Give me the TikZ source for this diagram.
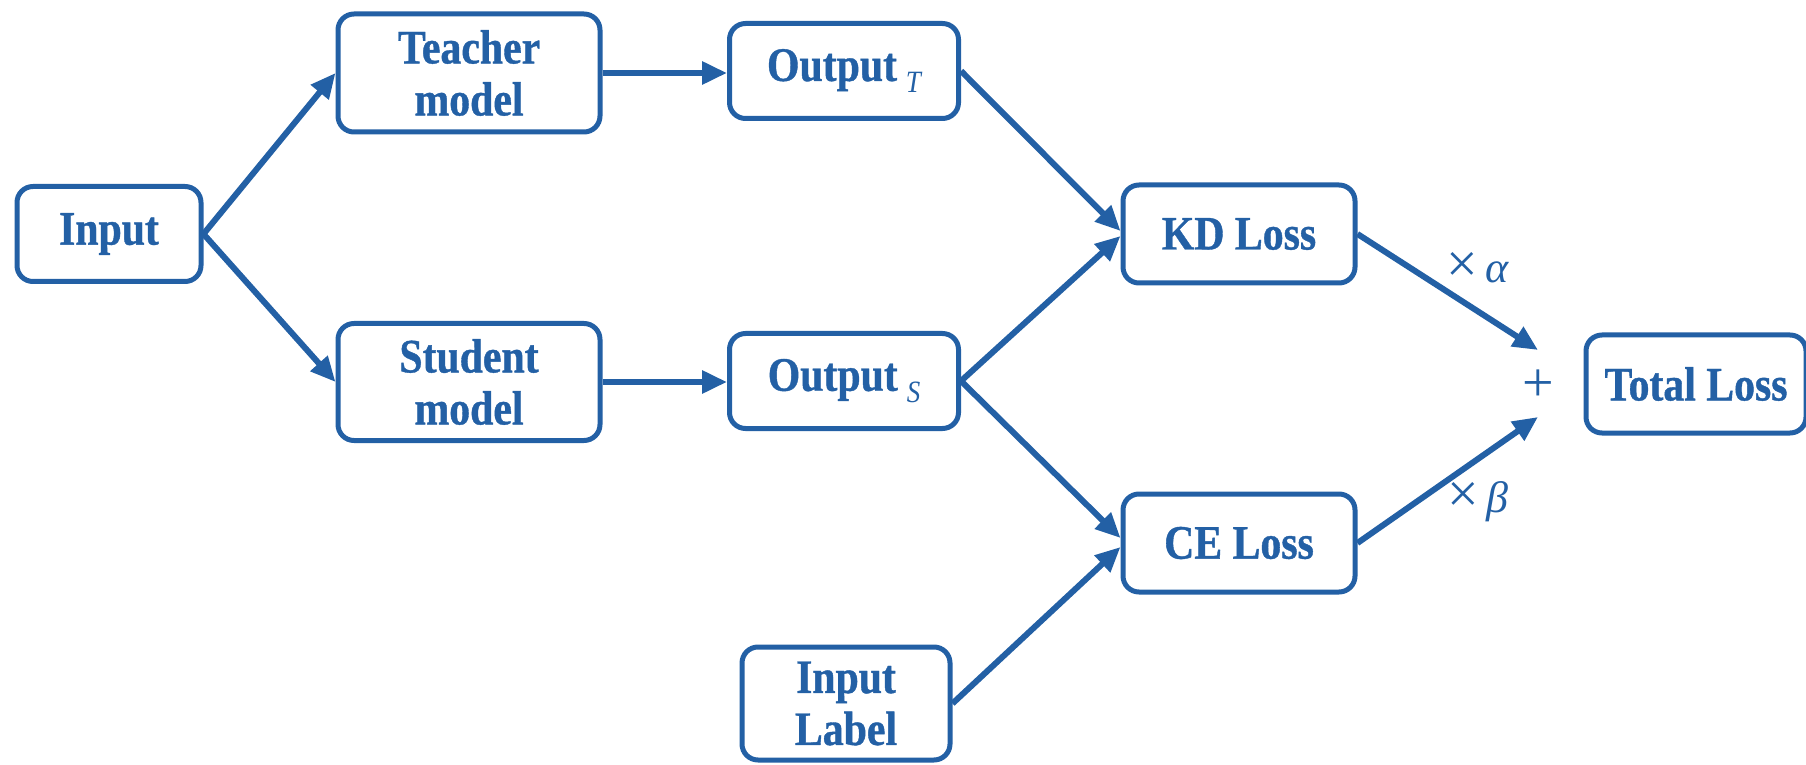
\documentclass[tikz,border=0pt]{standalone}
\usepackage{fontspec}
\newfontfamily\boxfont{Liberation Serif}[FakeStretch=0.87,BoldFeatures={FakeBold=0.8}]
\newfontfamily\symfnt{Liberation Serif}
\usetikzlibrary{arrows.meta}
\definecolor{kdblue}{RGB}{35,96,165}
\tikzset{
  box/.style={draw=kdblue, line width=5pt, rounded corners=16pt, text=kdblue,
    font=\boxfont\bfseries\fontsize{48}{52}\selectfont, align=center, inner sep=0pt},
  arr/.style={draw=kdblue, line width=6pt, -{Triangle[length=25pt,width=22pt]}},
  mlabel/.style={text=kdblue, font=\symfnt\fontsize{44}{44}\selectfont, inner sep=0pt}
}
\newcommand{\subsc}[1]{\hspace{9pt}\raisebox{-12pt}{\fontsize{31}{31}\selectfont\mdseries\itshape #1}}
\begin{document}
\begin{tikzpicture}[x=1pt,y=1pt]
\useasboundingbox (0,0) rectangle (1806,764);
\node[box, minimum width=184pt, minimum height=95pt] (in) at (109,530) {Input};
\node[box, minimum width=262pt, minimum height=118pt] (teacher) at (469,691) {Teacher\\model};
\node[box, minimum width=262pt, minimum height=117pt] (student) at (469,382) {Student\\model};
\node[box, minimum width=229pt, minimum height=95pt] (outT) at (844,693) {Output\subsc{T}};
\node[box, minimum width=229pt, minimum height=95pt] (outS) at (844,383) {Output\subsc{S}};
\node[box, minimum width=232pt, minimum height=98pt] (kd) at (1239,530) {KD Loss};
\node[box, minimum width=232pt, minimum height=98pt] (ce) at (1239,221) {CE Loss};
\node[box, minimum width=208pt, minimum height=113pt] (label) at (846,60.5) {Input\\Label};
\node[box, minimum width=220pt, minimum height=98pt] (total) at (1696,380) {Total Loss};
\node[mlabel, font=\symfnt\fontsize{56}{56}\selectfont] (plus) at (1538,378) {+};
\node[mlabel] (alpha) at (1478,496) {{\fontsize{56}{56}\selectfont ×}\,\textit{α}};
\node[mlabel] (beta) at (1478,262) {{\fontsize{56}{56}\selectfont ×}\,\textit{β}};
\coordinate (pa) at (1538,414);
\coordinate (pb) at (1538,347);
\draw[arr] (in.east) -- (teacher.west);
\draw[arr] (in.east) -- (student.west);
\draw[arr] (teacher.east) -- (teacher.east -| outT.west);
\draw[arr] (student.east) -- (student.east -| outS.west);
\draw[arr] (outT.east) -- ([yshift=3pt]kd.west);
\draw[arr] (outS.east) -- ([yshift=-2pt]kd.west);
\draw[arr] (outS.east) -- ([yshift=5pt]ce.west);
\draw[arr] (label.east) -- ([yshift=-4pt]ce.west);
\draw[arr] (kd.east) -- (pa);
\draw[arr] (ce.east) -- (pb);
\end{tikzpicture}
\end{document}
